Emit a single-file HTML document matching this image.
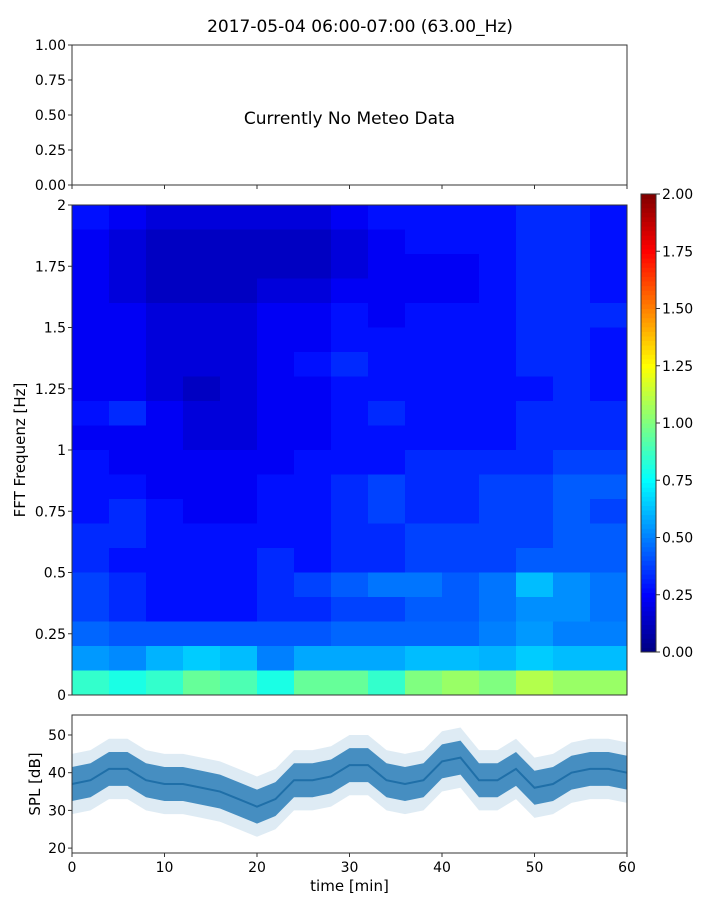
<!DOCTYPE html>
<html><head><meta charset="utf-8"><style>
body{margin:0;background:#fff;}
svg text{font-family:"DejaVu Sans","Liberation Sans",sans-serif;fill:#000;}
</style></head><body>
<svg id="fig" width="720" height="900" xmlns="http://www.w3.org/2000/svg">
<rect width="720" height="900" fill="#fff"/>
<text x="360" y="32" font-size="17" text-anchor="middle">2017-05-04 06:00-07:00 (63.00_Hz)</text>
<g id="meteo">
<rect x="72" y="45" width="555" height="140" fill="none" stroke="#333" stroke-width="1"/>
<text x="349.5" y="124" font-size="17" text-anchor="middle">Currently No Meteo Data</text>
</g>
<g id="spec"></g>
<g id="cbar"></g>
<g id="spl"></g>
<text transform="translate(25,450) rotate(-90)" font-size="15" text-anchor="middle">FFT Frequenz [Hz]</text>
<text transform="translate(40,784) rotate(-90)" font-size="15" text-anchor="middle">SPL [dB]</text>
<text x="349.5" y="891" font-size="15" text-anchor="middle">time [min]</text>
</svg>
<script>
const meteoTicks=["0.00","0.25","0.50","0.75","1.00"];
const timeTicks=[0,10,20,30,40,50,60];
const freqTicks=[0,0.25,0.5,0.75,1,1.25,1.5,1.75,2];
const freqTickLabels=["0","0.25","0.5","0.75","1","1.25","1.5","1.75","2"];
const cbarTicks=["0.00","0.25","0.50","0.75","1.00","1.25","1.50","1.75","2.00"];
// rows from top (1.9-2.0 Hz) down to (0-0.1 Hz); 15 columns of 4 min
const specRows=[
[.28,.23,.18,.18,.18,.18,.18,.23,.28,.28,.28,.28,.33,.33,.28],
[.23,.18,.13,.13,.13,.13,.13,.18,.23,.28,.28,.28,.33,.33,.28],
[.23,.18,.13,.13,.13,.13,.13,.18,.23,.23,.23,.28,.33,.33,.28],
[.23,.18,.13,.13,.13,.18,.18,.23,.23,.23,.23,.28,.33,.33,.28],
[.23,.23,.18,.18,.18,.23,.23,.28,.23,.28,.28,.28,.33,.33,.33],
[.23,.23,.18,.18,.18,.23,.23,.28,.28,.28,.28,.28,.33,.33,.28],
[.23,.23,.18,.18,.18,.23,.28,.33,.28,.28,.28,.28,.33,.33,.28],
[.23,.23,.18,.13,.18,.23,.23,.28,.28,.28,.28,.28,.28,.33,.28],
[.28,.33,.23,.18,.18,.23,.23,.28,.33,.28,.28,.28,.33,.33,.33],
[.23,.23,.23,.18,.18,.23,.23,.28,.28,.28,.28,.28,.33,.33,.33],
[.28,.23,.23,.23,.23,.23,.28,.28,.28,.33,.33,.33,.33,.38,.38],
[.28,.28,.23,.23,.23,.28,.28,.33,.38,.33,.33,.38,.38,.43,.43],
[.28,.33,.28,.23,.23,.28,.28,.33,.38,.33,.33,.38,.38,.43,.38],
[.33,.33,.28,.28,.28,.28,.28,.33,.33,.38,.38,.38,.38,.43,.43],
[.33,.28,.28,.28,.28,.33,.28,.33,.33,.38,.38,.38,.43,.43,.43],
[.38,.33,.28,.28,.28,.33,.38,.43,.48,.48,.43,.48,.62,.53,.48],
[.38,.33,.28,.28,.28,.33,.33,.38,.38,.43,.43,.48,.53,.53,.48],
[.45,.42,.42,.42,.42,.42,.42,.45,.45,.45,.45,.5,.55,.5,.5],
[.55,.52,.6,.65,.62,.5,.58,.58,.58,.62,.62,.6,.65,.62,.62],
[.85,.8,.85,.95,.9,.8,.95,.95,.85,1.0,1.05,1.0,1.1,1.05,1.05]];
const splTimes=[0,2,4,6,8,10,12,14,16,18,20,22,24,26,28,30,32,34,36,38,40,42,44,46,48,50,52,54,56,58,60];
const splMean=[37,38,41,41,38,37,37,36,35,33,31,33,38,38,39,42,42,38,37,38,43,44,38,38,41,36,37,40,41,41,40];
const splTicks=[20,30,40,50];

const NS="http://www.w3.org/2000/svg";
function mk(p,t,a){const e=document.createElementNS(NS,t);for(const k in a)e.setAttribute(k,a[k]);p.appendChild(e);return e;}
const X0=72,X1=627;
const xT=t=>X0+(t/60)*(X1-X0);
const yF=f=>695-(f/2)*490;
const yS=v=>715+(55.3-v)/(55.3-18.7)*138;
const yC=v=>652-(v/2)*458;
function jet(v){let x=Math.max(0,Math.min(1,v/2));
const c=t=>Math.round(255*Math.max(0,Math.min(1,1.5-Math.abs(4*x-t))));
return `rgb(${c(3)},${c(2)},${c(1)})`;}

const meteoG=document.getElementById('meteo');
meteoTicks.forEach((l,i)=>{const y=185-i*35;
const t=mk(meteoG,'line',{x1:68,x2:72,y1:y,y2:y,stroke:'#333'});


const tx=mk(meteoG,'text',{x:66,y:y+5,'font-size':14,'text-anchor':'end'});tx.textContent=l;

});
timeTicks.forEach(t=>{const l=mk(meteoG,'line',{x1:xT(t),x2:xT(t),y1:185,y2:189,stroke:'#333'});

});

const spec=document.getElementById('spec');
const nc=specRows[0].length,nr=specRows.length;
specRows.forEach((row,ri)=>{const f1=2-ri*(2/nr),f0=f1-2/nr;
row.forEach((v,ci)=>{const t0=ci*60/nc,t1=(ci+1)*60/nc;
const r=mk(spec,'rect',{x:xT(t0),y:yF(f1),width:xT(t1)-xT(t0)+0.5,height:yF(f0)-yF(f1)+0.5,fill:jet(v)});

});});
mk(spec,'rect',{x:72,y:205,width:555,height:490,fill:'none',stroke:'#333'});
freqTicks.forEach((f,i)=>{const y=yF(f);
const t=mk(spec,'line',{x1:68,x2:72,y1:y,y2:y,stroke:'#333'});


const tx=mk(spec,'text',{x:66,y:y+5,'font-size':14,'text-anchor':'end'});tx.textContent=freqTickLabels[i];

});

const cb=document.getElementById('cbar');
for(let i=0;i<100;i++){const v0=i*0.02,v1=v0+0.02;
const r=mk(cb,'rect',{x:641,y:yC(v1),width:15,height:yC(v0)-yC(v1)+0.5,fill:jet(v0+0.01)});

}
mk(cb,'rect',{x:641,y:194,width:15,height:458,fill:'none',stroke:'#333'});
cbarTicks.forEach((l,i)=>{const y=yC(i*0.25);
const t=mk(cb,'line',{x1:656,x2:660,y1:y,y2:y,stroke:'#333'});


const tx=mk(cb,'text',{x:662,y:y+5,'font-size':14});tx.textContent=l;

});

const spl=document.getElementById('spl');
function band(d){let up=splTimes.map((t,i)=>`${xT(t)},${yS(splMean[i]+d)}`);
let dn=splTimes.map((t,i)=>`${xT(t)},${yS(splMean[i]-d)}`).reverse();return up.concat(dn).join(' ');}
const b1=mk(spl,'polygon',{points:band(8),fill:'#1f77b4','fill-opacity':0.15});


const b2=mk(spl,'polygon',{points:band(4.5),fill:'#1f77b4','fill-opacity':0.8});


const ln=mk(spl,'polyline',{points:splTimes.map((t,i)=>`${xT(t)},${yS(splMean[i])}`).join(' '),fill:'none',stroke:'#1f6fa8','stroke-width':2});


mk(spl,'rect',{x:72,y:715,width:555,height:138,fill:'none',stroke:'#333'});
splTicks.forEach(v=>{const y=yS(v);
const t=mk(spl,'line',{x1:68,x2:72,y1:y,y2:y,stroke:'#333'});


const tx=mk(spl,'text',{x:66,y:y+5,'font-size':14,'text-anchor':'end'});tx.textContent=v;

});
timeTicks.forEach(t=>{const x=xT(t);
const l=mk(spl,'line',{x1:x,x2:x,y1:853,y2:857,stroke:'#333'});


const tx=mk(spl,'text',{x:x,y:872,'font-size':14,'text-anchor':'middle'});tx.textContent=t;

});
</script>
</body></html>
